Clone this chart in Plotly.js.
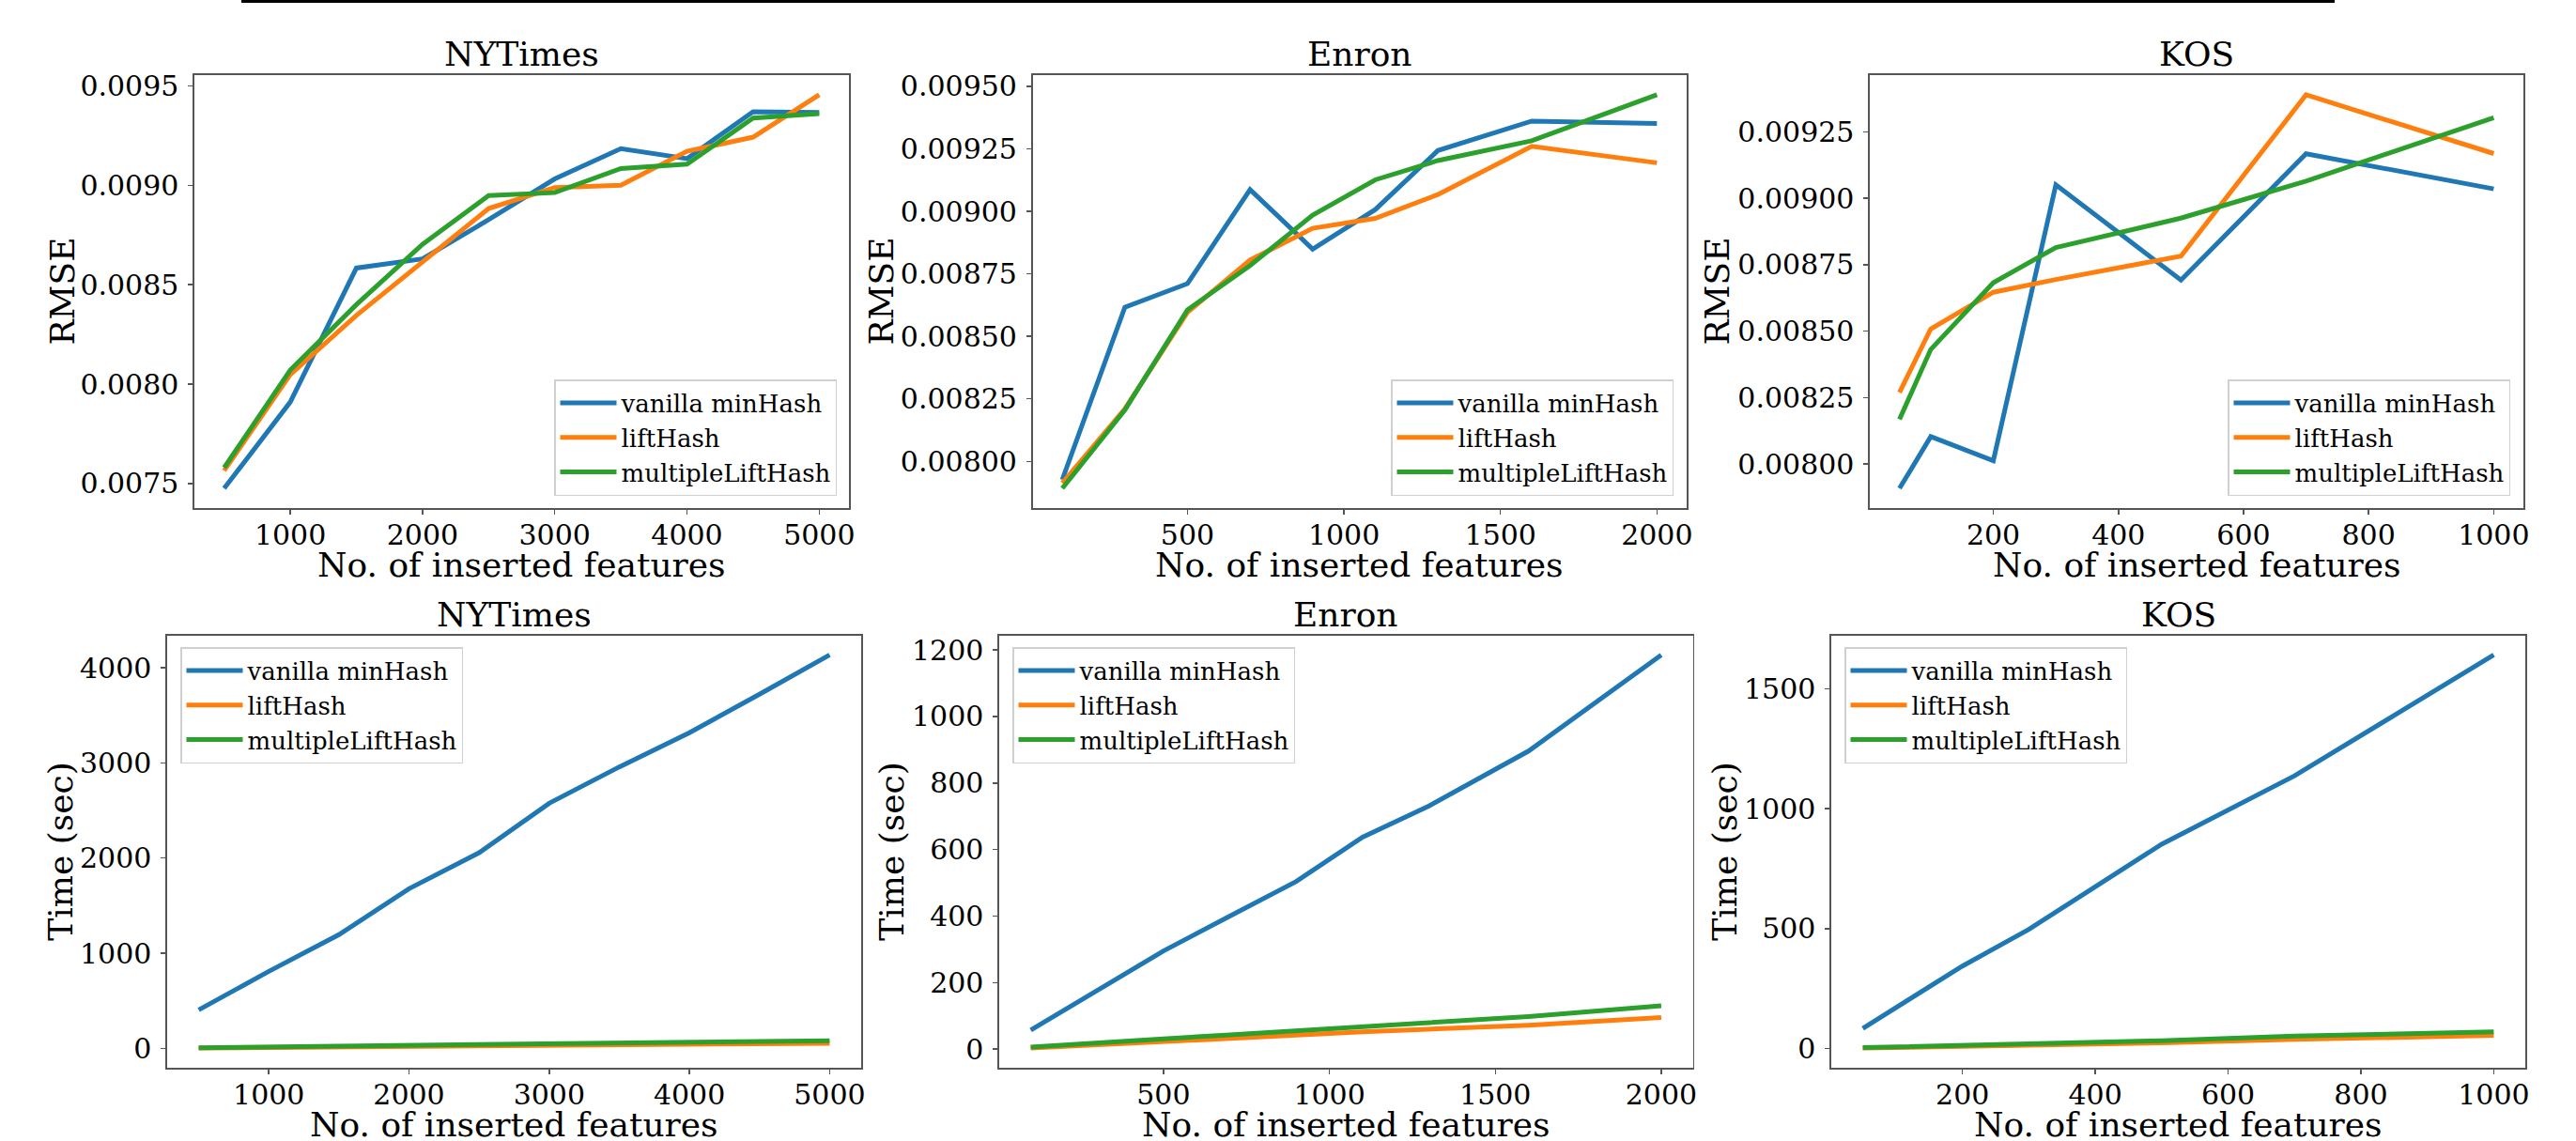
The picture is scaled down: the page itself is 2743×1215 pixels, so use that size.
<!DOCTYPE html>
<html>
<head>
<meta charset="utf-8">
<script src="https://cdn.plot.ly/plotly-3.0.1.min.js"></script>
<style>
  html, body { margin: 0; padding: 0; background: #ffffff; }
  #chart { width: 2743px; height: 1215px; }
</style>
</head>
<body>
<div id="chart"></div>
<script>
// ---------------- data ----------------
const seriesNames = ["vanilla minHash", "liftHash", "multipleLiftHash"];
const datasetTitles = ["NYTimes", "Enron", "KOS"];
const xAxisLabel = "No. of inserted features";
const rmseLabel = "RMSE";
const timeLabel = "Time (sec)";

const nytFeatures = [500, 1000, 1500, 2000, 2500, 3000, 3500, 4000, 4500, 5000];
const enronFeatures = [100, 300, 500, 700, 900, 1100, 1300, 1600, 2000];
const kosFeatures = [50, 100, 200, 300, 500, 700, 1000];

// RMSE
const nytRmseVanilla = [0.007476, 0.00791, 0.008584, 0.00863, 0.008827, 0.009032, 0.009184, 0.009134, 0.00937, 0.009366];
const nytRmseLift = [0.007565, 0.008048, 0.008346, 0.008615, 0.008883, 0.008989, 0.0090, 0.009171, 0.009242, 0.009455];
const nytRmseMulti = [0.00758, 0.008071, 0.0084, 0.008703, 0.008948, 0.008963, 0.009084, 0.009106, 0.009338, 0.00936];

const enronRmseVanilla = [0.007927, 0.008616, 0.008711, 0.009087, 0.008849, 0.009007, 0.009243, 0.009361, 0.009351];
const enronRmseLift = [0.007913, 0.00821, 0.008596, 0.008805, 0.008932, 0.008972, 0.009067, 0.00926, 0.009194];
const enronRmseMulti = [0.007892, 0.008206, 0.008606, 0.008783, 0.008985, 0.009126, 0.009203, 0.009282, 0.009466];

const kosRmseVanilla = [0.007908, 0.008103, 0.008012, 0.00905, 0.008692, 0.009167, 0.009035];
const kosRmseLift = [0.008269, 0.008508, 0.008646, 0.008694, 0.008782, 0.009389, 0.009168];
const kosRmseMulti = [0.008168, 0.008431, 0.008682, 0.008814, 0.008925, 0.009064, 0.009303];

// Time (sec)
const nytTimeVanilla = [405, 810, 1196, 1678, 2056, 2576, 2958, 3317, 3722, 4134];
const nytTimeLift = [4, 9, 14, 19, 24, 30, 35, 41, 47, 55];
const nytTimeMulti = [8, 15, 22, 30, 37, 45, 52, 60, 70, 82];

const enronTimeVanilla = [57, 177, 295, 400, 504, 637, 731, 896, 1185];
const enronTimeLift = [3, 12, 22, 32, 42, 52, 60, 72, 95];
const enronTimeMulti = [6, 17, 31, 43, 55, 66, 80, 98, 130];

const kosTimeVanilla = [84, 171, 344, 497, 852, 1137, 1641];
const kosTimeLift = [2, 4, 9, 14, 24, 38, 55];
const kosTimeMulti = [4, 7, 14, 21, 33, 52, 70];

// tick values
const nytXTicks = [1000, 2000, 3000, 4000, 5000];
const enronXTicks = [500, 1000, 1500, 2000];
const kosXTicks = [200, 400, 600, 800, 1000];
const nytRmseTicks = [0.0075, 0.0080, 0.0085, 0.0090, 0.0095];
const enronRmseTicks = [0.00800, 0.00825, 0.00850, 0.00875, 0.00900, 0.00925, 0.00950];
const kosRmseTicks = [0.00800, 0.00825, 0.00850, 0.00875, 0.00900, 0.00925];
const nytTimeTicks = [0, 1000, 2000, 3000, 4000];
const enronTimeTicks = [0, 200, 400, 600, 800, 1000, 1200];
const kosTimeTicks = [0, 500, 1000, 1500];

// ---------------- styling ----------------
const W = 2743, H = 1215;
const colors = ["#1f77b4", "#ff7f0e", "#2ca02c"];
const FONT = "DejaVu Serif, Liberation Serif, serif";
const px = v => v / W;
const py = v => 1 - v / H;

const panels = [
  {x: nytFeatures, ys: [nytRmseVanilla, nytRmseLift, nytRmseMulti], title: datasetTitles[0], ylab: rmseLabel,
   xt: nytXTicks, yt: nytRmseTicks, yfmt: ".4f", box: [207, 904, 80, 541], ylabX: 66,
   leg: {x: px(891), y: py(528), xanchor: "right", yanchor: "bottom"}},
  {x: enronFeatures, ys: [enronRmseVanilla, enronRmseLift, enronRmseMulti], title: datasetTitles[1], ylab: rmseLabel,
   xt: enronXTicks, yt: enronRmseTicks, yfmt: ".5f", box: [1099.5, 1796, 80, 541], ylabX: 938,
   leg: {x: px(1782), y: py(528), xanchor: "right", yanchor: "bottom"}},
  {x: kosFeatures, ys: [kosRmseVanilla, kosRmseLift, kosRmseMulti], title: datasetTitles[2], ylab: rmseLabel,
   xt: kosXTicks, yt: kosRmseTicks, yfmt: ".5f", box: [1991, 2687, 80, 541], ylabX: 1828,
   leg: {x: px(2673), y: py(528), xanchor: "right", yanchor: "bottom"}},
  {x: nytFeatures, ys: [nytTimeVanilla, nytTimeLift, nytTimeMulti], title: datasetTitles[0], ylab: timeLabel,
   xt: nytXTicks, yt: nytTimeTicks, yfmt: "d", box: [178, 917, 676.5, 1137], ylabX: 65,
   leg: {x: px(192), y: py(689), xanchor: "left", yanchor: "top"}},
  {x: enronFeatures, ys: [enronTimeVanilla, enronTimeLift, enronTimeMulti], title: datasetTitles[1], ylab: timeLabel,
   xt: enronXTicks, yt: enronTimeTicks, yfmt: "d", box: [1064, 1802.5, 676.5, 1137], ylabX: 950,
   leg: {x: px(1078), y: py(689), xanchor: "left", yanchor: "top"}},
  {x: kosFeatures, ys: [kosTimeVanilla, kosTimeLift, kosTimeMulti], title: datasetTitles[2], ylab: timeLabel,
   xt: kosXTicks, yt: kosTimeTicks, yfmt: "d", box: [1950, 2689, 676.5, 1137], ylabX: 1837,
   leg: {x: px(1964), y: py(689), xanchor: "left", yanchor: "top"}}
];

function padRange(arrs) {
  const all = [].concat(...arrs);
  const mn = Math.min(...all), mx = Math.max(...all);
  const m = (mx - mn) * 0.05;
  return [mn - m, mx + m];
}

const traces = [];
const layout = {
  width: W, height: H,
  margin: {l: 0, r: 0, t: 0, b: 0},
  paper_bgcolor: "#ffffff",
  plot_bgcolor: "#ffffff",
  font: {family: FONT, color: "#000000"},
  showlegend: true,
  annotations: [],
  shapes: [{
    type: "line", xref: "paper", yref: "paper",
    x0: px(257), x1: px(2486), y0: py(1.5), y1: py(1.5),
    line: {color: "#000000", width: 3}
  }]
};

panels.forEach((p, i) => {
  const n = i + 1;
  const suf = n === 1 ? "" : String(n);
  const xa = "xaxis" + suf;
  const ya = "yaxis" + suf;
  const legName = "legend" + suf;
  p.ys.forEach((y, k) => {
    traces.push({
      type: "scatter", mode: "lines",
      x: p.x, y: y, name: seriesNames[k],
      xaxis: "x" + suf, yaxis: "y" + suf,
      line: {color: colors[k], width: 5},
      legend: legName, showlegend: true
    });
  });
  const [l, r, t, b] = p.box;
  const axCommon = {
    showline: true, mirror: true, linecolor: "#555555", linewidth: 1.6,
    ticks: "outside", ticklen: 5, tickwidth: 1.5, tickcolor: "#555555",
    showgrid: false, zeroline: false,
    tickfont: {family: FONT, size: 30, color: "#000000"},
    tickmode: "array"
  };
  layout[xa] = Object.assign({}, axCommon, {
    domain: [px(l), px(r)], anchor: "y" + suf,
    range: padRange([p.x]), tickvals: p.xt, tickformat: "d",
    ticklabelstandoff: -4
  });
  layout[ya] = Object.assign({}, axCommon, {
    domain: [py(b), py(t)], anchor: "x" + suf,
    range: padRange(p.ys), tickvals: p.yt, tickformat: p.yfmt,
    ticklabelstandoff: 4
  });
  layout[legName] = Object.assign({
    bgcolor: "rgba(255,255,255,0.8)", bordercolor: "#d0d0d0", borderwidth: 1.5,
    font: {family: FONT, size: 26, color: "#000000"},
    itemwidth: 60,
    xref: "paper", yref: "paper"
  }, p.leg);
  const cx = px((l + r) / 2);
  // subplot title
  layout.annotations.push({
    text: p.title, xref: "paper", yref: "paper", x: cx, y: py(t - 22),
    xanchor: "center", yanchor: "middle", showarrow: false,
    font: {family: FONT, size: 36, color: "#000000"}
  });
  // x axis title
  layout.annotations.push({
    text: xAxisLabel, xref: "paper", yref: "paper", x: cx, y: py(b + 60),
    xanchor: "center", yanchor: "middle", showarrow: false,
    font: {family: FONT, size: 36, color: "#000000"}
  });
  // y axis title
  layout.annotations.push({
    text: p.ylab, xref: "paper", yref: "paper", x: px(p.ylabX), y: py((t + b) / 2),
    xanchor: "center", yanchor: "middle", showarrow: false, textangle: -90,
    font: {family: FONT, size: 36, color: "#000000"}
  });
});

Plotly.newPlot("chart", traces, layout, {staticPlot: true, displayModeBar: false});
</script>
</body>
</html>
